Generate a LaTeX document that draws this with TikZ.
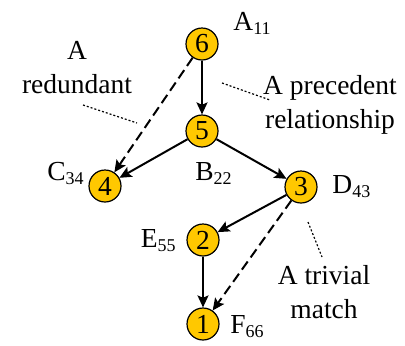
\documentclass[tikz,border=0pt]{standalone}
\usepackage{fontspec}
\setmainfont{Liberation Serif}
\usetikzlibrary{arrows.meta}
\definecolor{vgold}{RGB}{255,200,0}
\newcommand{\lblsub}[1]{\raisebox{-2pt}{\fontsize{9}{9}\selectfont #1}}
\tikzset{
  vertex/.style={circle,draw=black,line width=0.6pt,fill=vgold,minimum size=16pt,inner sep=0pt},
  tag/.style={inner sep=0pt},
  link/.style={line width=1pt,-{Stealth[length=6pt,width=5.5pt,inset=1.2pt]}},
  weak/.style={link,dash pattern=on 5pt off 2.5pt},
  pointer/.style={line width=0.6pt,dash pattern=on 1pt off 1pt}
}
\begin{document}
\begin{tikzpicture}[x=0.5pt,y=-0.5pt,font=\rmfamily\fontsize{13.75}{17}\selectfont]
			\useasboundingbox (0,0) rectangle (405,345);
			\foreach \n/\x/\y in {6/202/44,5/202/131,4/105/186,3/301/187,2/203/240,1/203/324}
			\node[vertex] (v\n) at (\x,\y) {\n};
			\node[tag,anchor=base west] (la) at (233,30) {A\lblsub{11}};
			\node[tag,anchor=base west] (lb) at (195,180) {B\lblsub{22}};
			\node[tag,anchor=base west] (lc) at (47,180) {C\lblsub{34}};
			\node[tag,anchor=base west] (ld) at (332,193) {D\lblsub{43}};
			\node[tag,anchor=base east] (le) at (176,247) {E\lblsub{55}};
			\node[tag,anchor=base west] (lf) at (230,333) {F\lblsub{66}};
			\foreach \a/\b in {6/5,5/4,5/3,3/2,2/1}
			\draw[link] (v\a) -- (v\b);
			\draw[weak] (v6) -- (v4);
			\draw[weak] (v3) -- (v1);
			\node[tag,align=center,anchor=base] (redundant) at (77,93) {A\\redundant};
			\node[tag,align=center,anchor=base] (precedent) at (330,128) {A precedent\\relationship};
			\node[tag,align=center,anchor=base] (trivial) at (324,318) {A trivial\\match};
			\coordinate (r1) at (83,105);
			\coordinate (r2) at (137,123);
			\coordinate (p1) at (222,83);
			\coordinate (p2) at (270,100);
			\coordinate (t1) at (308,222);
			\coordinate (t2) at (322,257);
			\draw[pointer] (r1) -- (r2);
			\draw[pointer] (p1) -- (p2);
			\draw[pointer] (t1) -- (t2);
	\end{tikzpicture}
\end{document}
